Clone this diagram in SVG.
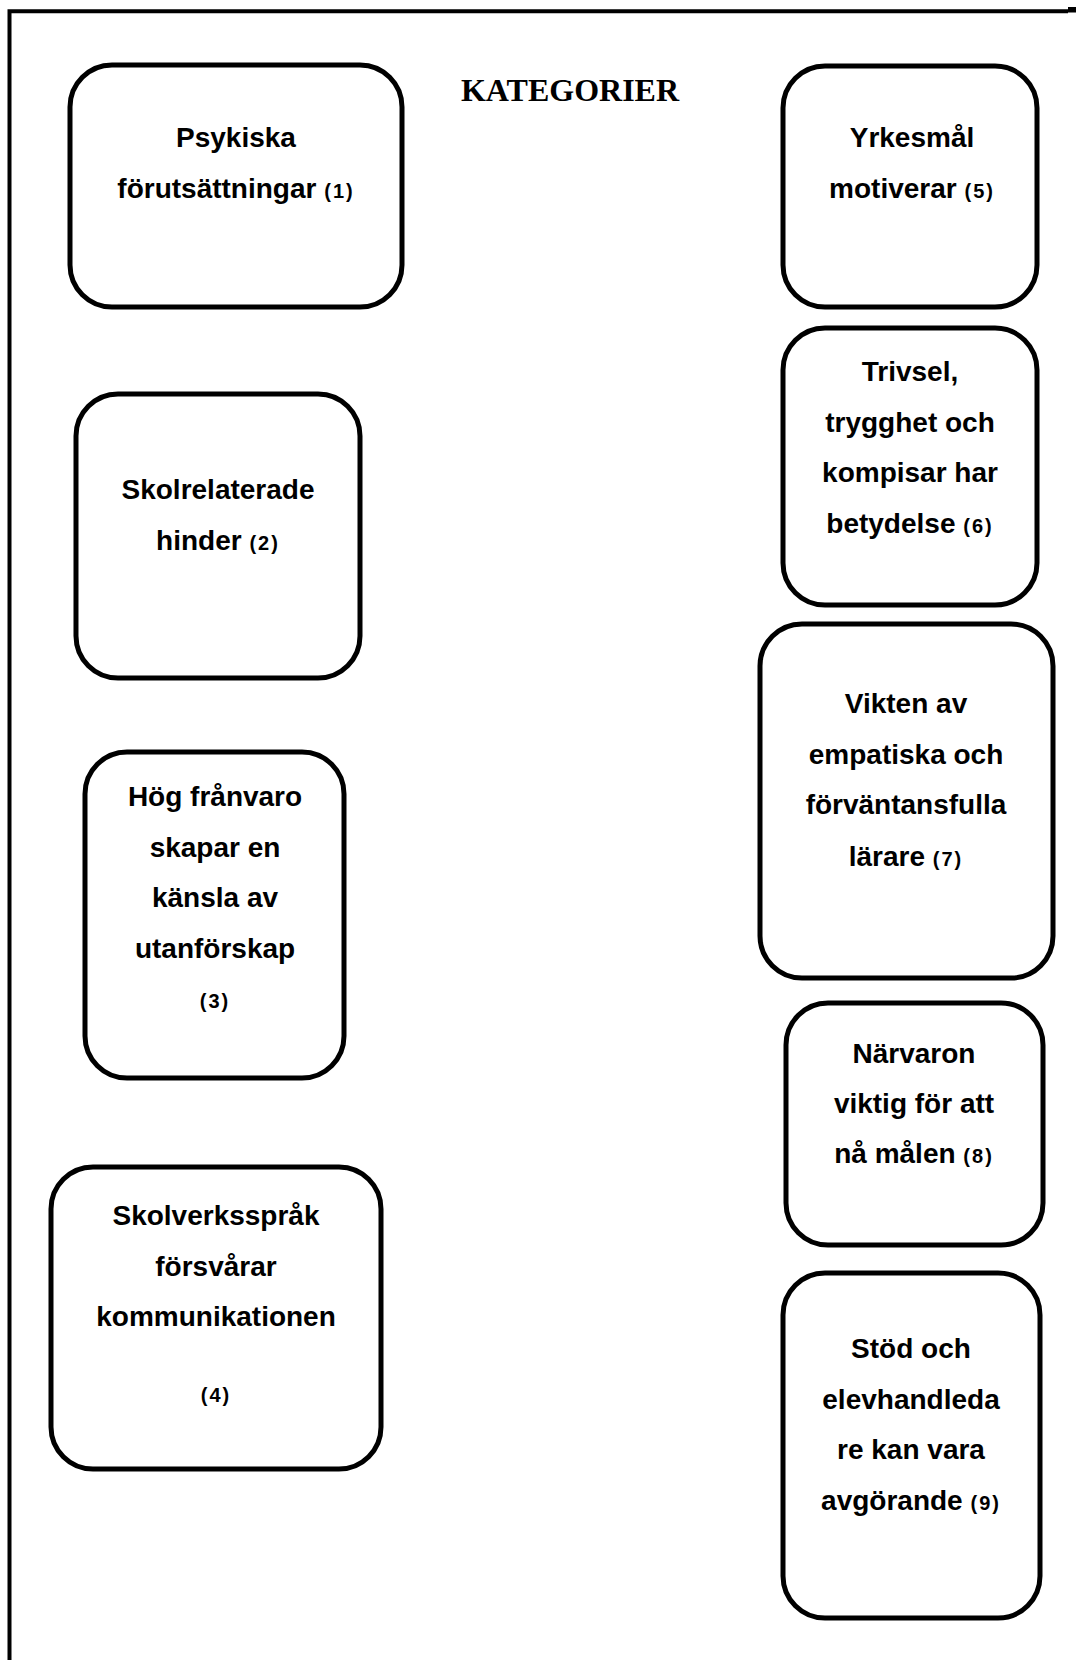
<svg xmlns="http://www.w3.org/2000/svg" width="1076" height="1660" viewBox="0 0 1076 1660">
<style>
.box{fill:#fff;stroke:#000;stroke-width:5}
.t{font-family:"Liberation Sans",Arial,sans-serif;font-weight:bold;font-size:28px;fill:#000;text-anchor:middle}
.n{font-size:20px;letter-spacing:2px}
.title{font-family:"Liberation Serif","Times New Roman",serif;font-weight:bold;font-size:32px;fill:#000;text-anchor:middle}
</style>
<rect width="1076" height="1660" fill="#fff"/>
<g id="frame">
<path d="M9.5 1660 V11.3 H1068" fill="none" stroke="#000" stroke-width="4"/>
<rect x="1068" y="7" width="8" height="5.5" fill="#000"/>
</g>
<text class="title" x="570" y="101">KATEGORIER</text>
<g id="connectors"></g>
<g id="n1">
<rect class="box" x="70" y="65" width="332" height="242" rx="42" ry="42"/>
<text class="t" x="236" y="147">Psykiska</text>
<text class="t" x="236" y="198">förutsättningar <tspan class="n">(1)</tspan></text>
</g>
<g id="n2">
<rect class="box" x="76" y="394" width="284" height="284" rx="42" ry="42"/>
<text class="t" x="218" y="499">Skolrelaterade</text>
<text class="t" x="218" y="550">hinder <tspan class="n">(2)</tspan></text>
</g>
<g id="n3">
<rect class="box" x="85" y="752" width="259" height="326" rx="42" ry="42"/>
<text class="t" x="215" y="806">Hög frånvaro</text>
<text class="t" x="215" y="857">skapar en</text>
<text class="t" x="215" y="907">känsla av</text>
<text class="t" x="215" y="958">utanförskap</text>
<text class="t n" x="215" y="1008">(3)</text>
</g>
<g id="n4">
<rect class="box" x="51" y="1167" width="330" height="302" rx="42" ry="42"/>
<text class="t" x="216" y="1225">Skolverksspråk</text>
<text class="t" x="216" y="1276">försvårar</text>
<text class="t" x="216" y="1326">kommunikationen</text>
<text class="t n" x="216" y="1402">(4)</text>
</g>
<g id="n5">
<rect class="box" x="783" y="66" width="254" height="241" rx="42" ry="42"/>
<text class="t" x="912" y="147">Yrkesmål</text>
<text class="t" x="912" y="198">motiverar <tspan class="n">(5)</tspan></text>
</g>
<g id="n6">
<rect class="box" x="783" y="328" width="254" height="277" rx="42" ry="42"/>
<text class="t" x="910" y="381">Trivsel,</text>
<text class="t" x="910" y="432">trygghet och</text>
<text class="t" x="910" y="482">kompisar har</text>
<text class="t" x="910" y="533">betydelse <tspan class="n">(6)</tspan></text>
</g>
<g id="n7">
<rect class="box" x="760" y="624" width="293" height="354" rx="42" ry="42"/>
<text class="t" x="906" y="713">Vikten av</text>
<text class="t" x="906" y="764">empatiska och</text>
<text class="t" x="906" y="814">förväntansfulla</text>
<text class="t" x="906" y="866">lärare <tspan class="n">(7)</tspan></text>
</g>
<g id="n8">
<rect class="box" x="786" y="1003" width="257" height="242" rx="42" ry="42"/>
<text class="t" x="914" y="1063">Närvaron</text>
<text class="t" x="914" y="1113">viktig för att</text>
<text class="t" x="914" y="1163">nå målen <tspan class="n">(8)</tspan></text>
</g>
<g id="n9">
<rect class="box" x="783" y="1273" width="257" height="345" rx="42" ry="42"/>
<text class="t" x="911" y="1358">Stöd och</text>
<text class="t" x="911" y="1409">elevhandleda</text>
<text class="t" x="911" y="1459">re kan vara</text>
<text class="t" x="911" y="1510">avgörande <tspan class="n">(9)</tspan></text>
</g>
</svg>
